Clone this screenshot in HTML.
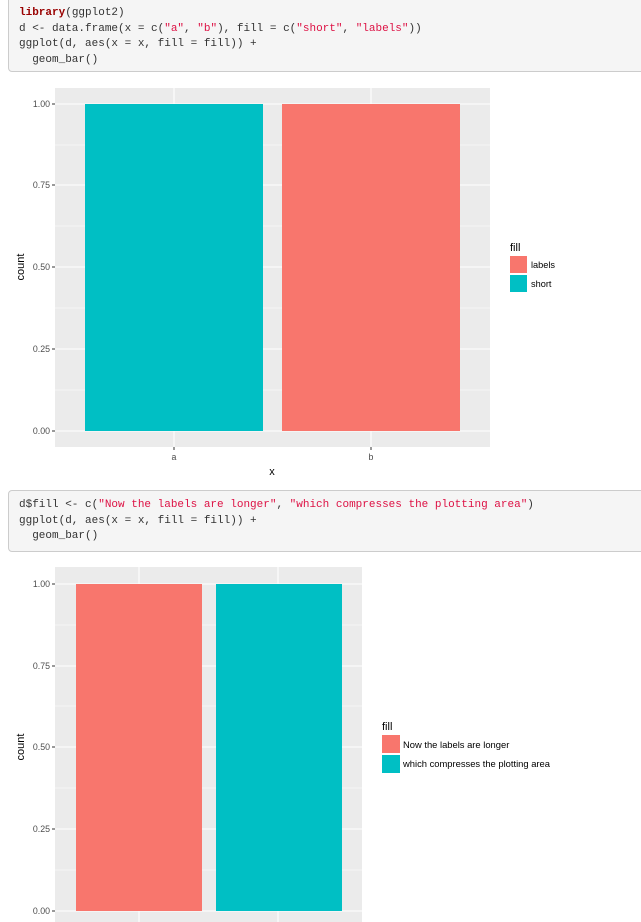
<!DOCTYPE html>
<html><head><meta charset="utf-8"><style>
body{margin:0;width:641px;height:922px;overflow:hidden;background:#fff;position:relative;font-family:"Liberation Sans",sans-serif}
.code{position:absolute;left:8px;width:640px;background:#f5f5f5;border:1px solid #ccc;border-radius:4px;box-sizing:border-box;font-family:"Liberation Mono",monospace;font-size:11px;color:#333;padding:0 0 0 10px;white-space:pre}
.code div{height:15.5px;line-height:15.5px}
.s{color:#d14}.k{color:#900;font-weight:bold}
svg{position:absolute;left:0;top:0}
</style></head><body>
<div class="code" style="top:-4px;height:76px;padding-top:9px"><div><span class="k">library</span>(ggplot2)</div><div>d &lt;- data.frame(x = c(<span class="s">"a"</span>, <span class="s">"b"</span>), fill = c(<span class="s">"short"</span>, <span class="s">"labels"</span>))</div><div>ggplot(d, aes(x = x, fill = fill)) +</div><div>  geom_bar()</div></div>
<div class="code" style="top:490px;height:62px;padding-top:7px"><div>d$fill &lt;- c(<span class="s">"Now the labels are longer"</span>, <span class="s">"which compresses the plotting area"</span>)</div><div>ggplot(d, aes(x = x, fill = fill)) +</div><div>  geom_bar()</div></div>
<svg width="641" height="922" font-family="Liberation Sans, sans-serif">
<rect x="55" y="88" width="435" height="359" fill="#ebebeb"/>
<g stroke="#fff" stroke-width="0.5">
<line x1="55" x2="490" y1="390" y2="390"/><line x1="55" x2="490" y1="308" y2="308"/><line x1="55" x2="490" y1="226" y2="226"/><line x1="55" x2="490" y1="145" y2="145"/></g>
<g stroke="#fff" stroke-width="1.1">
<line x1="55" x2="490" y1="431" y2="431"/><line x1="55" x2="490" y1="349" y2="349"/><line x1="55" x2="490" y1="267" y2="267"/><line x1="55" x2="490" y1="185" y2="185"/><line x1="55" x2="490" y1="104" y2="104"/>
<line x1="174" x2="174" y1="88" y2="447"/><line x1="371" x2="371" y1="88" y2="447"/></g>
<rect x="85" y="104" width="178" height="327" fill="#00bfc4"/>
<rect x="282" y="104" width="178" height="327" fill="#f8766d"/>
<g stroke="#333" stroke-width="1"><line x1="52" x2="55" y1="431" y2="431"/><line x1="52" x2="55" y1="349" y2="349"/><line x1="52" x2="55" y1="267" y2="267"/><line x1="52" x2="55" y1="185" y2="185"/><line x1="52" x2="55" y1="104" y2="104"/>
<line x1="174" x2="174" y1="447" y2="450"/><line x1="371" x2="371" y1="447" y2="450"/></g>
<g font-size="8.8" fill="#4d4d4d" text-anchor="end"><text x="50" y="434">0.00</text><text x="50" y="352">0.25</text><text x="50" y="270">0.50</text><text x="50" y="188">0.75</text><text x="50" y="107">1.00</text></g>
<g font-size="8.8" fill="#4d4d4d" text-anchor="middle"><text x="174" y="460">a</text><text x="371" y="460">b</text></g>
<text x="272" y="475" font-size="11" text-anchor="middle">x</text>
<text transform="translate(24,267) rotate(-90)" font-size="11" text-anchor="middle">count</text>
<text x="510" y="251" font-size="11">fill</text>
<rect x="510" y="256" width="17" height="17" fill="#f8766d"/><rect x="510" y="275" width="17" height="17" fill="#00bfc4"/>
<text x="531" y="268" font-size="9.2">labels</text><text x="531" y="287" font-size="9.2">short</text>
<rect x="55" y="567" width="307" height="360" fill="#ebebeb"/>
<g stroke="#fff" stroke-width="0.5">
<line x1="55" x2="362" y1="870" y2="870"/><line x1="55" x2="362" y1="788" y2="788"/><line x1="55" x2="362" y1="706" y2="706"/><line x1="55" x2="362" y1="625" y2="625"/></g>
<g stroke="#fff" stroke-width="1.1">
<line x1="55" x2="362" y1="911" y2="911"/><line x1="55" x2="362" y1="829" y2="829"/><line x1="55" x2="362" y1="747" y2="747"/><line x1="55" x2="362" y1="666" y2="666"/><line x1="55" x2="362" y1="584" y2="584"/>
<line x1="139" x2="139" y1="567" y2="922"/><line x1="278" x2="278" y1="567" y2="922"/></g>
<rect x="76" y="584" width="126" height="327" fill="#f8766d"/>
<rect x="216" y="584" width="126" height="327" fill="#00bfc4"/>
<g stroke="#333" stroke-width="1"><line x1="52" x2="55" y1="911" y2="911"/><line x1="52" x2="55" y1="829" y2="829"/><line x1="52" x2="55" y1="747" y2="747"/><line x1="52" x2="55" y1="666" y2="666"/><line x1="52" x2="55" y1="584" y2="584"/></g>
<g font-size="8.8" fill="#4d4d4d" text-anchor="end"><text x="50" y="914">0.00</text><text x="50" y="832">0.25</text><text x="50" y="750">0.50</text><text x="50" y="669">0.75</text><text x="50" y="587">1.00</text></g>
<text transform="translate(24,747) rotate(-90)" font-size="11" text-anchor="middle">count</text>
<text x="382" y="730" font-size="11">fill</text>
<rect x="382" y="735" width="18" height="18" fill="#f8766d"/><rect x="382" y="755" width="18" height="18" fill="#00bfc4"/>
<text x="403" y="748" font-size="9.4">Now the labels are longer</text><text x="403" y="767" font-size="9.4">which compresses the plotting area</text>
</svg>
</body></html>
